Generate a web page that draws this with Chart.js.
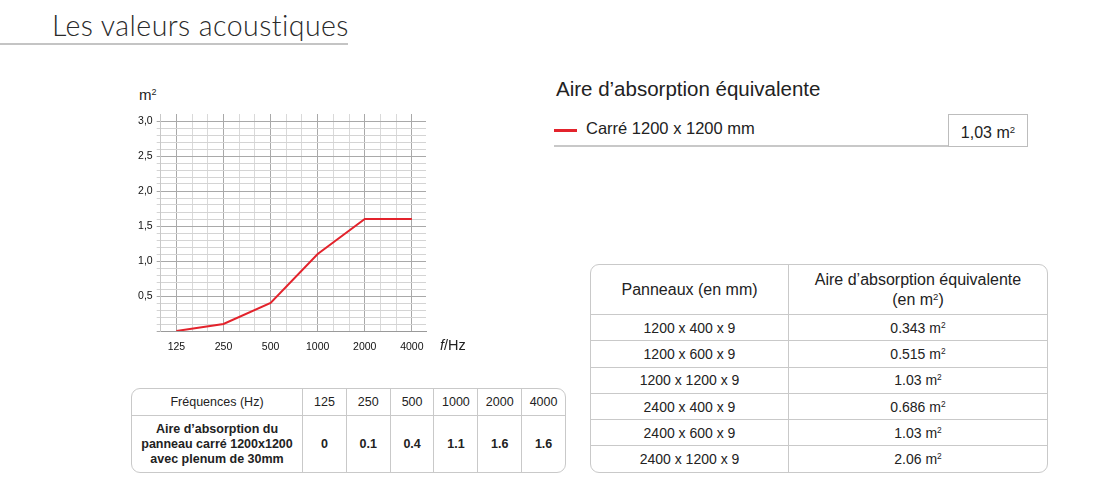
<!DOCTYPE html>
<html lang="fr">
<head>
<meta charset="utf-8">
<title>Les valeurs acoustiques</title>
<script src="https://cdn.jsdelivr.net/npm/chart.js@4.4.1/dist/chart.umd.min.js"></script>
<style>
  html, body { margin: 0; padding: 0; background: #fff; }
  body { width: 1100px; height: 482px; position: relative; overflow: hidden;
         font-family: "Liberation Sans", Arial, sans-serif; color: #222; }
  .abs { position: absolute; white-space: nowrap; }
  #titre { left: 52px; top: 8px; font-family: Lato, sans-serif; font-weight: 300;
           font-size: 28.5px; color: #2a2a2a; letter-spacing: 0.45px; }
  #titreLigne { left: 0; top: 43px; width: 348px; height: 2px; background: #c4c4c4; }
  #chartBox { left: 100px; top: 80px; width: 380px; height: 290px; }
  #unitY { left: 139px; top: 86px; font-size: 15px; }
  #unitX { left: 440px; top: 337px; font-size: 14.5px; }
  #legTitre { left: 556px; top: 77px; font-size: 20.5px; color: #222; }
  #legTrait { left: 554px; top: 129px; width: 23px; height: 3px; background: #e3232c; }
  #legTexte { left: 586px; top: 119px; font-size: 16.5px; }
  #legBoite { left: 948px; top: 114px; width: 78px; height: 31px; border: 1px solid #bdbdbd;
              font-size: 16px; text-align: center; line-height: 35px; background: #fff; }
  #legLigne { left: 554px; top: 145px; width: 474px; height: 2px; background: #c8c8c8; }
  sup { font-size: 0.6em; vertical-align: 0.55em; line-height: 0; }
  table { border-collapse: separate; border-spacing: 0; position: absolute; table-layout: fixed;
          border: 1px solid #c9c9c9; border-radius: 9px; }
  td, th { border-left: 1px solid #c9c9c9; border-top: 1px solid #c9c9c9; text-align: center;
           padding: 0; font-weight: normal; color: #222; }
  tr:first-child td, tr:first-child th { border-top: none; }
  td:first-child, th:first-child { border-left: none; }
  #tabFreq { left: 131px; top: 388px; width: 435px; font-size: 12.5px; }
  #tabFreq tr.h td { height: 26px; }
  #tabFreq tr.b td { height: 56px; font-weight: bold; line-height: 15px; }
  #tabPan { left: 590px; top: 264px; width: 458px; font-size: 14px; }
  #tabPan tr.h td { height: 49px; font-size: 16px; line-height: 20px; }
  #tabPan tr.r td { height: 25.3px; }
</style>
</head>
<body>
<div class="abs" id="titre">Les valeurs acoustiques</div>
<div class="abs" id="titreLigne"></div>

<div class="abs" id="unitY">m<sup>2</sup></div>
<div class="abs" id="chartBox"><canvas id="graph"></canvas></div>
<div class="abs" id="unitX"><i>f</i>/Hz</div>

<div class="abs" id="legTitre">Aire d’absorption équivalente</div>
<div class="abs" id="legTrait"></div>
<div class="abs" id="legTexte">Carré 1200 x 1200 mm</div>
<div class="abs" id="legLigne"></div>
<div class="abs" id="legBoite">1,03 m<sup>2</sup></div>

<table id="tabFreq">
  <colgroup><col style="width:170px"><col><col><col><col><col><col></colgroup>
  <tbody id="freqBody"></tbody>
</table>
<table id="tabPan">
  <colgroup><col style="width:197px"><col></colgroup>
  <tbody id="panBody"></tbody>
</table>

<script>
// Données
const frequences = ['125', '250', '500', '1000', '2000', '4000'];
const aireAbsorption = [0, 0.1, 0.4, 1.1, 1.6, 1.6];
const yTickLabels = ['0,5', '1,0', '1,5', '2,0', '2,5', '3,0'];
const panneaux = ['1200 x 400 x 9', '1200 x 600 x 9', '1200 x 1200 x 9', '2400 x 400 x 9', '2400 x 600 x 9', '2400 x 1200 x 9'];
const airesPanneaux = ['0.343', '0.515', '1.03', '0.686', '1.03', '2.06'];

// Tableau fréquences
document.getElementById('freqBody').innerHTML =
  '<tr class="h"><td>Fréquences (Hz)</td>' + frequences.map(f => '<td>' + f + '</td>').join('') + '</tr>' +
  '<tr class="b"><td>Aire d’absorption du<br>panneau carré 1200x1200<br>avec plenum de 30mm</td>' +
  aireAbsorption.map(v => '<td>' + v + '</td>').join('') + '</tr>';

// Tableau panneaux
document.getElementById('panBody').innerHTML =
  '<tr class="h"><td>Panneaux (en mm)</td><td>Aire d’absorption équivalente<br>(en m<sup>2</sup>)</td></tr>' +
  panneaux.map((p, i) => '<tr class="r"><td>' + p + '</td><td>' + airesPanneaux[i] + ' m<sup>2</sup></td></tr>').join('');

// Graphique
const isInt = v => Math.abs(v - Math.round(v)) < 1e-6;
const yMajor = v => isInt(v * 2);

const ctx = document.getElementById('graph').getContext('2d');
new Chart(ctx, {
  type: 'line',
  data: {
    datasets: [{
      data: aireAbsorption.map((v, i) => ({ x: i, y: v })),
      borderColor: '#e3232c',
      borderWidth: 2,
      pointRadius: 0,
      tension: 0,
      fill: false
    }]
  },
  options: {
    responsive: true,
    maintainAspectRatio: false,
    animation: false,
    layout: { padding: { top: 34, right: 54, left: 0, bottom: 0 } },
    plugins: { legend: { display: false }, tooltip: { enabled: false } },
    scales: {
      x: {
        type: 'linear',
        min: -1 / 3,
        max: 5.3,
        afterBuildTicks: axis => {
          const t = [];
          for (let i = -1; i <= 15; i++) t.push({ value: i / 3 });
          axis.ticks = t;
        },
        afterFit: scale => { scale.height = 39; },
        ticks: {
          autoSkip: false,
          maxRotation: 0,
          padding: 10,
          color: '#111',
          font: { family: 'Liberation Sans', size: 10.5 },
          callback: v => (isInt(v) && v >= 0) ? frequences[Math.round(v)] : ''
        },
        grid: {
          drawTicks: false,
          color: c => (c.tick && isInt(c.tick.value) && c.tick.value >= 0) ? '#a9a9a9' : '#d9d9d9'
        },
        border: { display: true, color: '#9a9a9a', width: 1 }
      },
      y: {
        min: 0,
        max: 3.1,
        afterBuildTicks: axis => {
          const t = [];
          for (let i = 0; i <= 30; i++) t.push({ value: i / 10 });
          axis.ticks = t;
        },
        afterFit: scale => { scale.width = 60.7; },
        ticks: {
          autoSkip: false,
          padding: 4,
          color: '#111',
          font: { family: 'Liberation Sans', size: 10.5 },
          callback: v => (yMajor(v) && v > 0) ? yTickLabels[Math.round(v * 2) - 1] : ''
        },
        grid: {
          tickLength: 4,
          color: c => (c.tick && yMajor(c.tick.value)) ? '#a9a9a9' : '#d4d4d4',
          tickColor: c => (c.tick && yMajor(c.tick.value)) ? '#a9a9a9' : '#d4d4d4'
        },
        border: { display: true, color: '#c8c8c8', width: 1 }
      }
    }
  }
});
</script>
</body>
</html>
